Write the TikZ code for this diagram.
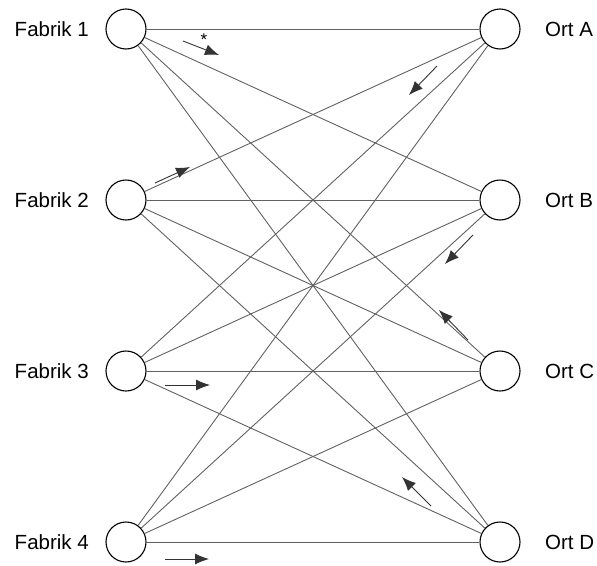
\documentclass[tikz,border=0pt]{standalone}
\usepackage{fontspec}
\setmainfont{Liberation Sans}
\usetikzlibrary{arrows.meta}
\begin{document}
\begin{tikzpicture}[x=1pt,y=-1pt,
  site/.style={circle,draw=black,line width=1.1pt,minimum size=40pt,inner sep=0pt},
  lbl/.style={font=\fontsize{20.5}{24}\selectfont,inner sep=0pt},
  route/.style={draw=black!62,line width=0.9pt},
  flow/.style={draw=black!80,line width=0.9pt,-{Latex[length=14pt,width=11pt]}}]
\useasboundingbox (0,0) rectangle (597,565);
% factories (left) and destinations (right)
\foreach \n/\y in {1/29,2/200,3/371,4/542}{
  \node[site] (f\n) at (126,\y) {};
  \node[lbl,anchor=east] (lf\n) at (89,\y) {Fabrik \n};
}
\foreach \n/\t/\y in {a/A/29,b/B/200,c/C/371,d/D/542}{
  \node[site] (o\n) at (500,\y) {};
  \node[lbl,anchor=west] (lo\n) at (545,\y) {Ort \t};
}
% every factory is connected to every destination
\foreach \i in {1,2,3,4}{
  \foreach \j in {a,b,c,d}{
    \draw[route] (f\i) -- (o\j);
  }
}
% direction markers
\coordinate (s1) at (183,41);  \coordinate (e1) at (219,55);
\coordinate (s2) at (155,183); \coordinate (e2) at (190,167);
\coordinate (s3) at (437,66);  \coordinate (e3) at (409,95);
\coordinate (s4) at (473,235); \coordinate (e4) at (445,264);
\coordinate (s5) at (468,340); \coordinate (e5) at (439,310);
\coordinate (s6) at (165,385); \coordinate (e6) at (210,385);
\coordinate (s7) at (165,559); \coordinate (e7) at (209,559);
\coordinate (s8) at (431,506); \coordinate (e8) at (402,477);
\foreach \k in {1,...,8}{ \draw[flow] (s\k) -- (e\k); }
\node[inner sep=0pt,font=\fontsize{17}{17}\selectfont] (star) at (204,40) {*};
\end{tikzpicture}
\end{document}
